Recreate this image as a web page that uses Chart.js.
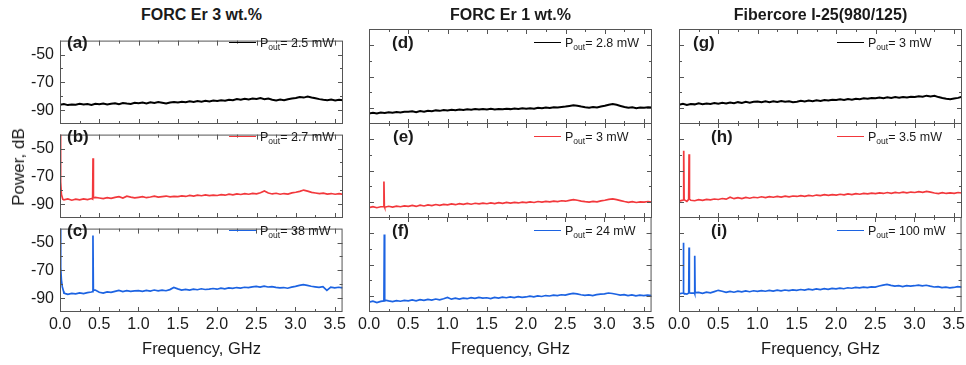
<!DOCTYPE html>
<html>
<head>
<meta charset="utf-8">
<script src="https://cdn.jsdelivr.net/npm/chart.js@4.4.1/dist/chart.umd.min.js"></script>
<style>
  html, body { margin: 0; padding: 0; background: #fff; }
  #fig { position: relative; width: 966px; height: 365px; background: #fff; overflow: hidden;
         font-family: "Liberation Sans", Arial, sans-serif; color: #1a1a1a; }
  #fig canvas { position: absolute; }
  .ct { position: absolute; font-weight: bold; font-size: 16px; white-space: nowrap; transform: translate(-50%, -50%); }
  .xt { position: absolute; font-size: 16.5px; white-space: nowrap; transform: translate(-50%, -50%); }
  .yt { position: absolute; font-size: 17px; white-space: nowrap; transform: translate(-50%, -50%) rotate(-90deg); }
  .pl { position: absolute; font-weight: bold; font-size: 17px; white-space: nowrap; transform: translateY(-50%); }
  .lg { position: absolute; font-size: 12.5px; white-space: nowrap; transform: translateY(-50%); line-height: 16px; }
  .lg .sb { font-size: 8.5px; position: relative; top: 3px; }
  .sw { position: absolute; width: 27px; height: 0; border-top: 1.4px solid #000; }
</style>
</head>
<body>
<div id="fig"></div>
<script>
// frequency grid, GHz
const freq = [0,0.05,0.1,0.15,0.2,0.25,0.3,0.35,0.4,0.45,0.5,0.55,0.6,0.65,0.7,0.75,0.8,0.85,0.9,0.95,
  1,1.05,1.1,1.15,1.2,1.25,1.3,1.35,1.4,1.45,1.5,1.55,1.6,1.65,1.7,1.75,1.8,1.85,1.9,1.95,
  2,2.05,2.1,2.15,2.2,2.25,2.3,2.35,2.4,2.45,2.5,2.55,2.6,2.65,2.7,2.75,2.8,2.85,2.9,2.95,
  3,3.05,3.1,3.15,3.2,3.25,3.3,3.35,3.4,3.45,3.5,3.55,3.6];

// power spectra, dB
const specA = [-86.2,-85.6,-86.4,-85.9,-86.1,-85.4,-86.0,-85.7,-86.3,-85.5,
  -85.8,-85.2,-86.0,-85.4,-85.1,-85.7,-84.9,-85.3,-85.6,-84.8,
  -85.0,-84.6,-85.2,-84.4,-84.9,-84.2,-84.7,-85.3,-84.5,-84.1,
  -84.6,-84.0,-84.4,-83.7,-84.2,-83.5,-83.9,-83.3,-83.8,-83.1,
  -83.5,-82.9,-83.2,-82.5,-82.9,-82.1,-82.6,-81.8,-82.3,-81.7,
  -82.0,-81.4,-82.2,-81.6,-82.5,-83.0,-82.4,-82.9,-82.2,-81.6,
  -81.3,-80.6,-81.0,-80.2,-80.9,-81.5,-82.1,-82.6,-82.9,-82.4,
  -83.0,-82.6,-82.9];
const specB = [-40,-86.9,-86.3,-87.2,-86.5,-86.9,-86.2,-86.8,-86.0,-85.2,
  -85.6,-86.1,-85.4,-85.9,-85.2,-84.6,-85.7,-84.3,-85.0,-85.5,
  -85.1,-84.7,-85.4,-84.9,-84.3,-85.0,-84.6,-84.2,-84.8,-84.4,
  -84.6,-84.1,-84.5,-83.8,-84.3,-83.6,-84.0,-83.4,-83.9,-83.5,
  -83.8,-83.2,-83.6,-82.9,-83.3,-82.7,-83.1,-82.5,-82.9,-82.3,
  -82.6,-81.8,-80.6,-82.0,-82.7,-82.2,-82.9,-82.4,-82.8,-81.9,
  -81.5,-80.8,-79.9,-80.7,-81.6,-82.0,-82.5,-82.1,-82.8,-82.4,
  -82.9,-82.5,-83.0];
const specC = [-40,-86.4,-87.3,-86.6,-87.0,-86.2,-86.8,-86.1,-85.6,-84.2,
  -85.8,-86.4,-85.5,-85.9,-85.2,-84.5,-85.3,-84.7,-85.1,-84.8,
  -84.6,-85.2,-84.4,-84.9,-84.2,-84.8,-84.3,-84.7,-83.9,-82.4,
  -83.4,-84.2,-83.7,-84.3,-83.6,-84.0,-83.3,-83.8,-83.5,-83.1,
  -83.6,-82.8,-83.3,-82.6,-83.0,-82.4,-82.8,-82.2,-82.5,-81.9,
  -81.6,-82.1,-81.4,-82.0,-81.7,-82.3,-82.7,-82.4,-82.9,-82.1,
  -81.6,-80.9,-80.3,-80.8,-81.5,-81.9,-82.3,-81.8,-84.5,-82.1,
  -82.6,-82.2,-82.7];
const specD = [-93.3,-92.9,-93.4,-92.8,-93.0,-92.6,-92.9,-92.4,-92.7,-92.2,
  -92.3,-91.9,-92.5,-91.8,-92.2,-91.6,-91.9,-91.4,-91.7,-91.2,
  -91.4,-91.0,-91.3,-90.8,-91.2,-90.7,-91.0,-90.6,-90.9,-90.5,
  -90.8,-90.4,-90.9,-90.5,-90.7,-90.3,-90.6,-90.2,-90.5,-90.1,
  -90.4,-90.0,-90.3,-89.8,-90.1,-89.6,-89.9,-89.4,-89.6,-89.2,
  -89.0,-88.6,-88.2,-88.5,-89.0,-89.4,-89.7,-89.3,-89.6,-89.0,
  -88.5,-87.8,-87.4,-87.9,-88.6,-89.3,-89.8,-89.5,-90.0,-89.6,
  -89.8,-89.4,-89.6];
const specE = [-93.4,-92.8,-93.5,-92.9,-93.2,-92.6,-93.1,-92.5,-92.9,-92.3,
  -92.6,-92.0,-92.7,-91.9,-92.4,-91.7,-92.2,-91.5,-92.0,-91.4,
  -91.7,-91.1,-91.6,-90.9,-91.4,-90.8,-91.3,-90.7,-91.1,-90.6,
  -91.0,-90.5,-90.9,-90.3,-90.8,-90.2,-90.6,-90.1,-90.5,-90.0,
  -90.3,-89.8,-90.2,-89.6,-90.0,-89.5,-89.8,-89.3,-89.6,-89.1,
  -89.4,-88.9,-88.4,-88.8,-89.3,-89.7,-90.0,-89.5,-89.8,-89.2,
  -88.8,-88.2,-87.9,-88.4,-89.0,-89.6,-90.1,-89.7,-90.2,-89.8,
  -90.0,-89.6,-89.9];
const specF = [-93.8,-93.2,-94.0,-93.3,-93.6,-93.0,-93.4,-92.8,-93.2,-92.7,
  -93.0,-92.4,-92.9,-92.2,-92.7,-92.0,-92.5,-91.8,-92.3,-91.6,
  -90.8,-91.9,-91.3,-91.8,-91.2,-91.6,-90.9,-91.4,-90.8,-91.2,
  -91.0,-91.5,-90.8,-91.2,-90.6,-91.0,-90.4,-90.9,-90.3,-90.7,
  -90.5,-90.0,-90.4,-89.8,-90.2,-89.6,-89.9,-89.3,-89.7,-89.1,
  -89.3,-88.7,-88.2,-88.6,-89.1,-89.5,-89.2,-89.6,-89.0,-88.7,
  -88.5,-88.0,-88.3,-88.8,-89.3,-89.0,-89.6,-89.2,-89.8,-89.4,
  -89.7,-89.3,-89.6];
const specG = [-87.9,-87.3,-88.0,-87.4,-87.6,-86.9,-87.5,-87.0,-87.3,-86.8,
  -87.2,-86.6,-87.1,-86.4,-86.9,-86.2,-86.7,-86.0,-86.5,-85.9,
  -85.8,-86.3,-85.7,-86.2,-85.6,-86.1,-85.5,-86.0,-85.7,-86.2,
  -85.9,-85.4,-85.8,-85.2,-85.6,-85.0,-85.4,-84.8,-85.2,-84.7,
  -84.9,-84.4,-84.8,-84.2,-84.6,-84.0,-84.3,-83.8,-84.1,-83.6,
  -83.8,-83.3,-83.7,-83.1,-83.6,-83.0,-83.4,-82.9,-83.3,-82.8,
  -83.0,-82.5,-82.8,-82.1,-82.6,-82.2,-83.0,-83.6,-84.1,-84.4,
  -83.9,-83.5,-82.8];
const specH = [-89.3,-88.7,-89.5,-88.8,-89.1,-88.4,-88.9,-88.2,-88.6,-88.0,
  -88.3,-87.7,-88.1,-86.9,-87.8,-87.2,-87.7,-87.0,-87.5,-86.9,
  -87.2,-86.6,-87.1,-86.5,-86.9,-86.3,-86.8,-86.2,-86.6,-86.1,
  -86.4,-85.9,-86.3,-85.7,-86.1,-85.5,-85.9,-85.3,-85.7,-85.2,
  -85.5,-85.0,-85.4,-84.8,-85.2,-84.6,-85.0,-84.4,-84.8,-84.3,
  -84.6,-84.1,-84.5,-83.9,-84.4,-83.8,-84.2,-83.7,-84.1,-83.6,
  -83.9,-83.4,-83.8,-83.2,-83.7,-84.2,-84.6,-84.0,-84.5,-84.1,
  -84.4,-83.9,-84.2];
const specI = [-88.6,-88.0,-88.7,-88.1,-88.4,-87.6,-88.2,-87.5,-87.9,-87.1,
  -86.3,-86.9,-87.6,-87.0,-87.5,-86.8,-87.3,-86.7,-87.2,-86.6,
  -87.0,-86.5,-86.9,-86.3,-86.8,-86.2,-86.7,-86.1,-86.5,-86.0,
  -86.3,-85.8,-86.2,-85.6,-86.0,-85.4,-85.8,-85.3,-85.7,-85.1,
  -85.4,-84.9,-85.3,-84.7,-85.0,-84.5,-84.8,-84.3,-84.6,-84.1,
  -84.3,-83.6,-83.0,-82.6,-83.2,-83.7,-83.4,-83.9,-83.3,-83.7,
  -83.4,-83.0,-83.5,-83.1,-83.7,-84.2,-84.0,-84.6,-84.3,-84.8,
  -84.5,-84.0,-84.3];

// narrow features (low-frequency roll-off and beat-note spikes): [GHz, dB]
const peaksA = [];
const peaksB = [[0.006,-42],[0.01,-74],[0.018,-83],[0.035,-86.5],[0.415,-86.4],[0.42,-57],[0.425,-85.6]];
const peaksC = [[0.007,-42],[0.011,-68],[0.018,-77],[0.03,-82],[0.045,-85],[0.07,-86.8],[0.415,-85.4],[0.42,-45],[0.425,-84.3]];
const peaksD = [];
const peaksE = [[0.185,-92.8],[0.19,-77],[0.195,-92.5]];
const peaksF = [[0.19,-93],[0.195,-51],[0.2,-92.5]];
const peaksG = [];
const peaksH = [[0.055,-88.6],[0.06,-57.5],[0.065,-88.4],[0.123,-88.2],[0.128,-59.7],[0.133,-88.0]];
const peaksI = [[0.052,-88],[0.056,-56.3],[0.06,-88.2],[0.124,-88],[0.128,-59.2],[0.132,-87.8],[0.197,-87.9],[0.201,-64.4],[0.205,-87.7]];

const spectra = [specA, specB, specC, specD, specE, specF, specG, specH, specI];
const peaks = [peaksA, peaksB, peaksC, peaksD, peaksE, peaksF, peaksG, peaksH, peaksI];
const panelLabels = ['(a)','(b)','(c)','(d)','(e)','(f)','(g)','(h)','(i)'];
const powerLabels = ['2.5 mW','2.7 mW','38 mW','2.8 mW','3 mW','24 mW','3 mW','3.5 mW','100 mW'];
const colTitles = ['FORC Er 3 wt.%','FORC Er 1 wt.%','Fibercore I-25(980/125)'];
const xTickValues = [0,0.5,1,1.5,2,2.5,3,3.5];
const xMinorTicks = [0.25,0.75,1.25,1.75,2.25,2.75,3.25];
const yTickValues = [-50,-70,-90];
const yMinorTicks = [-60,-80];

// layout
const colLeft = [60, 369, 679];
const rowTop = [29, 123, 217];
const plotW = 283, plotH = 95;
const axisW = 55, axisH = 30, padTop = 4, padRight = 6;
const rowColors = ['#000000', '#f2383c', '#1c63e2'];
const rowWidth = [2, 1.7, 1.7];
const labelOff = [[7,7,7],[23,24,23],[14,32,32]];
const legendOff = [200, 196, 189];
const frameColor = '#555';
const fontFam = '"Liberation Sans", Arial, sans-serif';

const fig = document.getElementById('fig');

const frame = {
  id: 'frame',
  afterDatasetsDraw(chart) {
    const {ctx, chartArea: a, scales: {x, y}} = chart;
    ctx.save();
    ctx.strokeStyle = frameColor;
    ctx.lineWidth = 1;
    ctx.strokeRect(a.left + 0.5, a.top + 0.5, a.width - 1, a.height - 1);
    ctx.beginPath();
    const xt = (v, len) => {
      const px = Math.round(x.getPixelForValue(v)) + 0.5;
      ctx.moveTo(px, a.bottom); ctx.lineTo(px, a.bottom - len);
      ctx.moveTo(px, a.top); ctx.lineTo(px, a.top + len);
    };
    const yt = (v, len) => {
      const py = Math.round(y.getPixelForValue(v)) + 0.5;
      ctx.moveTo(a.left, py); ctx.lineTo(a.left + len, py);
      ctx.moveTo(a.right, py); ctx.lineTo(a.right - len, py);
    };
    xTickValues.forEach(v => xt(v, 5));
    xMinorTicks.forEach(v => xt(v, 3));
    yTickValues.forEach(v => yt(v, 5));
    yMinorTicks.forEach(v => yt(v, 3));
    ctx.stroke();
    ctx.restore();
  }
};

function addText(cls, txt, left, top) {
  const d = document.createElement('div');
  d.className = cls;
  d.textContent = txt;
  d.style.left = left + 'px';
  d.style.top = top + 'px';
  fig.appendChild(d);
  return d;
}

const overlays = [];

for (let c = 0; c < 3; c++) {
  for (let r = 0; r < 3; r++) {
    const k = c * 3 + r;
    const pts = freq.map((f, i) => ({x: f, y: spectra[k][i]}))
      .concat(peaks[k].map(p => ({x: p[0], y: p[1]})))
      .sort((p, q) => p.x - q.x);

    const cv = document.createElement('canvas');
    const w = axisW + plotW + padRight, h = padTop + plotH + axisH;
    cv.width = w; cv.height = h;
    cv.style.width = w + 'px'; cv.style.height = h + 'px';
    cv.style.left = (colLeft[c] - axisW) + 'px';
    cv.style.top = (rowTop[r] - padTop) + 'px';
    fig.appendChild(cv);

    const showX = r === 2, showY = c === 0;
    new Chart(cv, {
      type: 'line',
      data: { datasets: [{ data: pts, borderColor: rowColors[r], borderWidth: rowWidth[r], pointRadius: 0, tension: 0 }] },
      options: {
        responsive: false,
        animation: false,
        events: [],
        layout: { padding: { top: padTop, right: padRight, left: 0, bottom: 0 } },
        plugins: { legend: { display: false }, tooltip: { enabled: false } },
        scales: {
          x: {
            type: 'linear', min: 0, max: 3.6,
            afterBuildTicks: s => { s.ticks = xTickValues.map(v => ({value: v})); },
            afterFit: s => { s.height = axisH; },
            grid: { display: false, drawTicks: false },
            border: { display: false },
            ticks: { display: showX, autoSkip: false, maxRotation: 0, padding: 3,
                     color: '#1a1a1a', font: { family: fontFam, size: 16 },
                     callback: v => Number(v).toFixed(1) }
          },
          y: {
            type: 'linear', min: -100, max: -40,
            afterBuildTicks: s => { s.ticks = yTickValues.map(v => ({value: v})); },
            afterFit: s => { s.width = axisW; },
            grid: { display: false, drawTicks: false },
            border: { display: false },
            ticks: { display: showY, autoSkip: false, padding: 6,
                     color: '#1a1a1a', font: { family: fontFam, size: 16 },
                     callback: v => Number(v).toFixed(0) }
          }
        }
      },
      plugins: [frame]
    });
    overlays.push([c, r, k]);
  }
}

// all text goes on top of every canvas
for (let c = 0; c < 3; c++) {
  addText('ct', colTitles[c], colLeft[c] + plotW / 2, 15);
  addText('xt', 'Frequency, GHz', colLeft[c] + plotW / 2, 348);
}
overlays.forEach(([c, r, k]) => {
  addText('pl', panelLabels[k], colLeft[c] + labelOff[c][r], rowTop[r] + 14);

  const textX = colLeft[c] + legendOff[c];
  const midY = rowTop[r] + 13.5;
  const sw = document.createElement('div');
  sw.className = 'sw';
  sw.style.borderTopColor = rowColors[r];
  sw.style.left = (textX - 31) + 'px';
  sw.style.top = (midY - 0.7) + 'px';
  fig.appendChild(sw);

  const lg = document.createElement('div');
  lg.className = 'lg';
  lg.style.left = textX + 'px';
  lg.style.top = midY + 'px';
  lg.appendChild(document.createTextNode('P'));
  const sb = document.createElement('span');
  sb.className = 'sb';
  sb.textContent = 'out';
  lg.appendChild(sb);
  lg.appendChild(document.createTextNode('= ' + powerLabels[k]));
  fig.appendChild(lg);
});

addText('yt', 'Power, dB', 19, 167);
</script>
</body>
</html>
